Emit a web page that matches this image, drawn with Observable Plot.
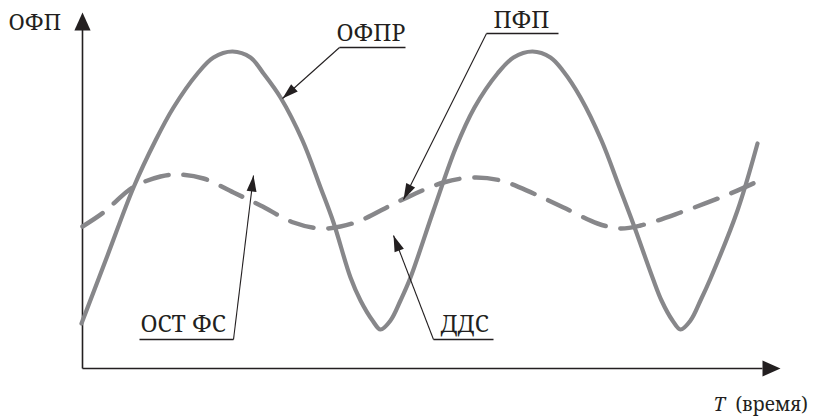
<!DOCTYPE html>
<html>
<head>
<meta charset="utf-8">
<script src="https://cdn.jsdelivr.net/npm/d3@7"></script>
<script src="https://cdn.jsdelivr.net/npm/@observablehq/plot@0.6"></script>
<style>
  html, body { margin: 0; padding: 0; background: #fff; }
  #chart svg { display: block; }
</style>
</head>
<body>
<div id="chart"></div>
<script>
// Time axis values (T) and ОФП level
const solidT = [-1, 25, 51, 73, 91, 115, 131, 150, 168, 181, 198, 220, 238, 251, 268, 278, 290, 298, 308, 318, 328, 351, 373, 392, 415, 431, 450, 468, 481, 498, 519, 537, 551, 570, 579, 590, 598, 608, 618, 628, 655, 675];
const solidV = [45, 113, 181, 228, 261, 295, 311, 317, 311, 295, 271, 228, 181, 146, 91, 68, 48, 39, 48, 68, 91, 158, 220, 261, 295, 311, 317, 311, 297, 271, 228, 181, 144, 91, 68, 48, 39, 48, 68, 90, 158, 225];

const dashT = [0, 21, 50, 78, 95, 121, 151, 178, 211, 238, 258, 278, 318, 361, 391, 418, 451, 481, 515, 538, 558, 598, 648, 675];
const dashV = [142, 156, 181, 192, 194, 190, 176, 163, 146, 140, 142, 148, 168, 186, 191, 188, 175, 161, 145, 140, 143, 156, 175, 187];

// Annotation labels
const labels = ["ОФПР", "ПФП", "ОСТ ФС", "ДДС"];
const labelT = [254, 411, 58, 358];
const labelV = [328, 341, 37, 37];
const ulT1 = [257, 404, 57, 351];
const ulT2 = [323, 476, 151, 411];
const ulV = [321, 335, 29, 29];
const leadFromT = [257, 404, 151, 351];
const leadFromV = [321, 335, 29, 29];
const leadToT = [200, 321, 171, 311];
const leadToV = [270, 169, 193, 133];

// Axes
const axisEndT = [0, 680];
const axisEndV = [340, 0];
const axisTipT = [0, 698];
const axisTipV = [356, 0];
const yAxisLabel = "ОФП";
const xAxisLabelT = "T";
const xAxisLabelRest = "(время)";

const solid = solidT.map((t, i) => ({t, v: solidV[i]}));
const dashed = dashT.map((t, i) => ({t, v: dashV[i]}));
const ann = labels.map((s, i) => ({
  s, lt: labelT[i], lv: labelV[i], u1: ulT1[i], u2: ulT2[i], uv: ulV[i],
  ft: leadFromT[i], fv: leadFromV[i], tt: leadToT[i], tv: leadToV[i],
  ang: Math.atan2(leadToT[i] - leadFromT[i], leadToV[i] - leadFromV[i]) * 180 / Math.PI
}));
const axes = axisEndT.map((t, i) => ({
  t, v: axisEndV[i], tt: axisTipT[i], tv: axisTipV[i],
  ang: Math.atan2(axisTipT[i], axisTipV[i]) * 180 / Math.PI
}));

function arrowSymbol(ratio) {
  return {
    draw(context, size) {
      const L = Math.sqrt(size / Math.PI);
      const W = L * ratio;
      context.moveTo(0, 0);
      context.lineTo(-W / 2, L);
      context.lineTo(W / 2, L);
      context.closePath();
    }
  };
}

const ink = "#231f20";
const gray = "#87878a";
const font = "Noto Serif";

const chart = Plot.plot({
  width: 819,
  height: 417,
  margin: 0,
  style: {fontFamily: "Noto Serif", background: "white"},
  x: {domain: [-82, 737], range: [0, 819], axis: null},
  y: {domain: [-49, 368], range: [417, 0], axis: null},
  marks: [
    // axes
    Plot.link(axes, {x1: 0, y1: 0, x2: "t", y2: "v", stroke: ink, strokeWidth: 1.6}),
    Plot.dot(axes, {x: "tt", y: "tv", symbol: arrowSymbol(0.9), r: 18, rotate: "ang", fill: ink, stroke: "none"}),
    // curves
    Plot.line(dashed, {x: "t", y: "v", curve: "catmull-rom", stroke: gray, strokeWidth: 4.5, strokeDasharray: "24,15"}),
    Plot.line(solid, {x: "t", y: "v", curve: "catmull-rom", stroke: gray, strokeWidth: 4.2}),
    // annotation leaders
    Plot.link(ann, {x1: "u1", y1: "uv", x2: "u2", y2: "uv", stroke: ink, strokeWidth: 1.3}),
    Plot.link(ann, {x1: "ft", y1: "fv", x2: "tt", y2: "tv", stroke: ink, strokeWidth: 1.1}),
    Plot.dot(ann, {x: "tt", y: "tv", symbol: arrowSymbol(0.62), r: 16, rotate: "ang", fill: ink, stroke: "none"}),
    Plot.text(ann, {x: "lt", y: "lv", text: "s", textAnchor: "start", lineAnchor: "bottom", fontFamily: font, fontSize: 23, fill: ink}),
    // axis labels
    Plot.text([yAxisLabel], {x: -74, y: 339, text: d => d, textAnchor: "start", lineAnchor: "bottom", fontFamily: font, fontSize: 22, fill: ink}),
    Plot.text([xAxisLabelT], {x: 631, y: -42, text: d => d, textAnchor: "start", lineAnchor: "bottom", fontFamily: font, fontStyle: "italic", fontSize: 19, fill: ink}),
    Plot.text([xAxisLabelRest], {x: 653, y: -42, text: d => d, textAnchor: "start", lineAnchor: "bottom", fontFamily: font, fontSize: 19, fill: ink})
  ]
});
document.getElementById("chart").appendChild(chart);
</script>
</body>
</html>
